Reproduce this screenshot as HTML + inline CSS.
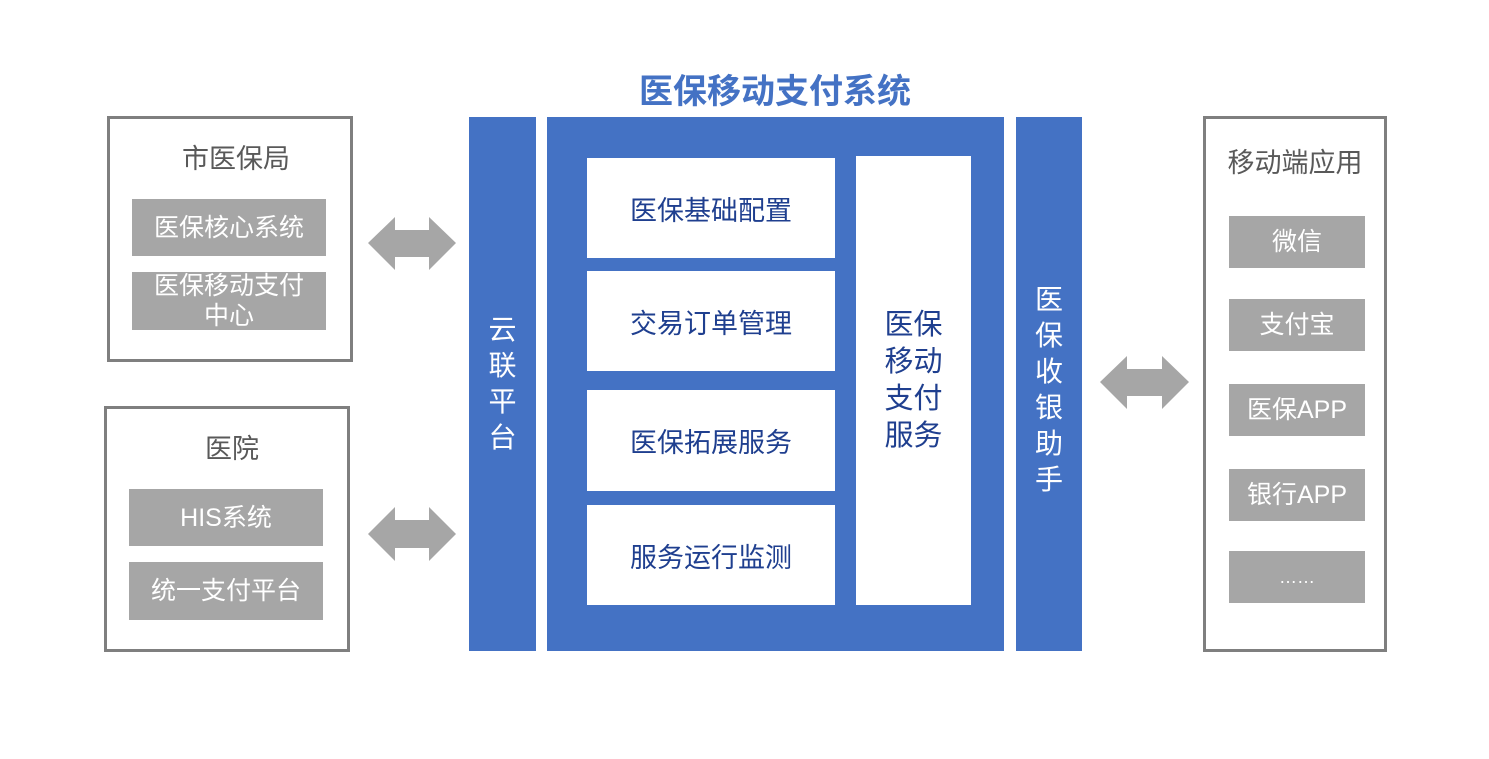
<!DOCTYPE html>
<html><head><meta charset="utf-8"><style>
body{margin:0;width:1489px;height:759px;background:#fff;position:relative;overflow:hidden;font-family:"Liberation Sans","Noto Sans CJK SC",sans-serif}
.a{position:absolute;box-sizing:border-box}
.ob{border:3px solid #7f7f7f;background:#fff}
.t{position:absolute;left:0;right:0;text-align:center;color:#595959;font-size:27px}
.g{background:#a6a6a6;color:#fff;font-size:25px;text-align:center;display:flex;align-items:center;justify-content:center;line-height:30px}
.bl{background:#4472c4}
.w{background:#fff;color:#1f3f8f;font-size:27px;display:flex;align-items:center;justify-content:center}
.v{color:#fff;font-size:28px;text-align:center;line-height:36px;display:flex;align-items:center;justify-content:center}
</style></head><body>
<div class="a" style="left:590px;top:64px;width:370px;text-align:center;font-size:34px;font-weight:bold;color:#4472c4">医保移动支付系统</div>

<div class="a ob" style="left:107px;top:116px;width:246px;height:246px"><div class="t" style="top:18px;left:12px">市医保局</div></div>
<div class="a g" style="left:132px;top:199px;width:194px;height:57px">医保核心系统</div>
<div class="a g" style="left:132px;top:272px;width:194px;height:58px">医保移动支付<br>中心</div>

<div class="a ob" style="left:104px;top:406px;width:246px;height:246px"><div class="t" style="top:18px;left:10px">医院</div></div>
<div class="a g" style="left:129px;top:489px;width:194px;height:57px">HIS系统</div>
<div class="a g" style="left:129px;top:562px;width:194px;height:58px">统一支付平台</div>

<svg class="a" style="left:0;top:0" width="1489" height="759">
<polygon fill="#a6a6a6" points="368,243 395,217 395,230 429,230 429,217 456,243 429,270 429,257 395,257 395,270"/>
<polygon fill="#a6a6a6" points="368,534 395,507 395,520 429,520 429,507 456,534 429,561 429,548 395,548 395,561"/>
<polygon fill="#a6a6a6" points="1100,382 1127,356 1127,369 1162,369 1162,356 1189,382 1162,409 1162,396 1127,396 1127,409"/>
</svg>

<div class="a bl v" style="left:469px;top:117px;width:67px;height:534px">云<br>联<br>平<br>台</div>
<div class="a bl" style="left:547px;top:117px;width:457px;height:534px"></div>
<div class="a w" style="left:587px;top:158px;width:248px;height:100px">医保基础配置</div>
<div class="a w" style="left:587px;top:271px;width:248px;height:100px">交易订单管理</div>
<div class="a w" style="left:587px;top:390px;width:248px;height:101px">医保拓展服务</div>
<div class="a w" style="left:587px;top:505px;width:248px;height:100px">服务运行监测</div>
<div class="a w" style="left:856px;top:156px;width:115px;height:449px;font-size:29px;line-height:37px;text-align:center">医保<br>移动<br>支付<br>服务</div>
<div class="a bl v" style="left:1016px;top:117px;width:66px;height:534px;padding-top:12px">医<br>保<br>收<br>银<br>助<br>手</div>

<div class="a ob" style="left:1203px;top:116px;width:184px;height:536px"><div class="t" style="top:22px">移动端应用</div></div>
<div class="a g" style="left:1229px;top:216px;width:136px;height:52px">微信</div>
<div class="a g" style="left:1229px;top:299px;width:136px;height:52px">支付宝</div>
<div class="a g" style="left:1229px;top:384px;width:136px;height:52px">医保APP</div>
<div class="a g" style="left:1229px;top:469px;width:136px;height:52px">银行APP</div>
<div class="a g" style="left:1229px;top:551px;width:136px;height:52px;font-size:18px">……</div>
</body></html>
